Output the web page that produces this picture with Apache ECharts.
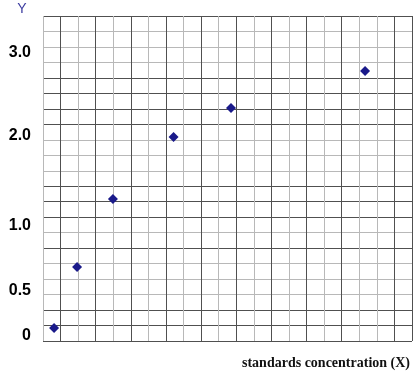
<!DOCTYPE html>
<html>
<head>
<meta charset="utf-8">
<script src="https://cdn.jsdelivr.net/npm/echarts@6/dist/echarts.min.js"></script>
<style>
html,body{margin:0;padding:0;background:#fff;}
#c{width:413px;height:375px;}
</style>
</head>
<body>
<div id="c"></div>
<script>
// Data (axis units = grid cells)
const concentrations = [0.63, 1.94, 3.98, 7.43, 10.70, 18.33];
const responses = [0.84, 4.78, 9.18, 13.18, 15.06, 17.45];
// Y tick labels and where they sit on the axis
const yTickLabels = ['0', '0.5', '1.0', '2.0', '3.0'];
const yTickPositions = [0.36, 3.26, 7.44, 13.29, 18.64];
const xAxisTitle = 'standards concentration (X)';
const yAxisTitle = 'Y';

const D = '#505050', L = '#b8b8b8';
const vColors = [L, D, L, D, L, D, L, D, L, D, L, D, L, D, L, D, L, D, L, L, D, D];
const hColors = [D, D, D, L, L, L, D, L, D, D, D, L, L, L, D, D, D, D, L, L, L, D];

const chart = echarts.init(document.getElementById('c'), null, {renderer: 'canvas'});
chart.setOption({
  animation: false,
  backgroundColor: '#ffffff',
  grid: {left: 43, top: 16, right: 1, bottom: 34, containLabel: false, outerBoundsMode: 'none'},
  xAxis: {
    type: 'value', min: 0, max: 21, interval: 1,
    name: xAxisTitle, nameLocation: 'end', nameGap: -2,
    nameTextStyle: {fontFamily: 'Liberation Serif', fontWeight: 'bold', fontSize: 14, color: '#111',
      align: 'right', verticalAlign: 'top', padding: [15, 0, 0, 0]},
    axisLine: {show: false}, axisTick: {show: false}, axisLabel: {show: false},
    splitLine: {show: true, lineStyle: {color: vColors, width: 1}}
  },
  yAxis: {
    type: 'value', min: 0, max: 21, interval: 1,
    name: yAxisTitle, nameLocation: 'end', nameGap: 0,
    nameTextStyle: {fontFamily: 'Liberation Sans', fontSize: 14, color: '#3c3ca0',
      align: 'center', verticalAlign: 'bottom', padding: [0, 42, 0, 0]},
    axisLine: {show: false}, axisTick: {show: false},
    axisLabel: {
      show: true, customValues: yTickPositions, margin: 12,
      fontFamily: 'Liberation Sans', fontWeight: 'bold', fontSize: 16, color: '#000',
      formatter: function (v) {
        let best = 0, bd = Infinity;
        for (let i = 0; i < yTickPositions.length; i++) {
          const d = Math.abs(yTickPositions[i] - v);
          if (d < bd) { bd = d; best = i; }
        }
        return yTickLabels[best];
      }
    },
    splitLine: {show: true, lineStyle: {color: hColors, width: 1}}
  },
  series: [{
    type: 'scatter',
    data: concentrations.map((x, i) => [x, responses[i]]),
    symbol: 'diamond', symbolSize: [10, 10],
    itemStyle: {color: '#1a1a8a', opacity: 1},
    z: 5
  }]
});
</script>
</body>
</html>
